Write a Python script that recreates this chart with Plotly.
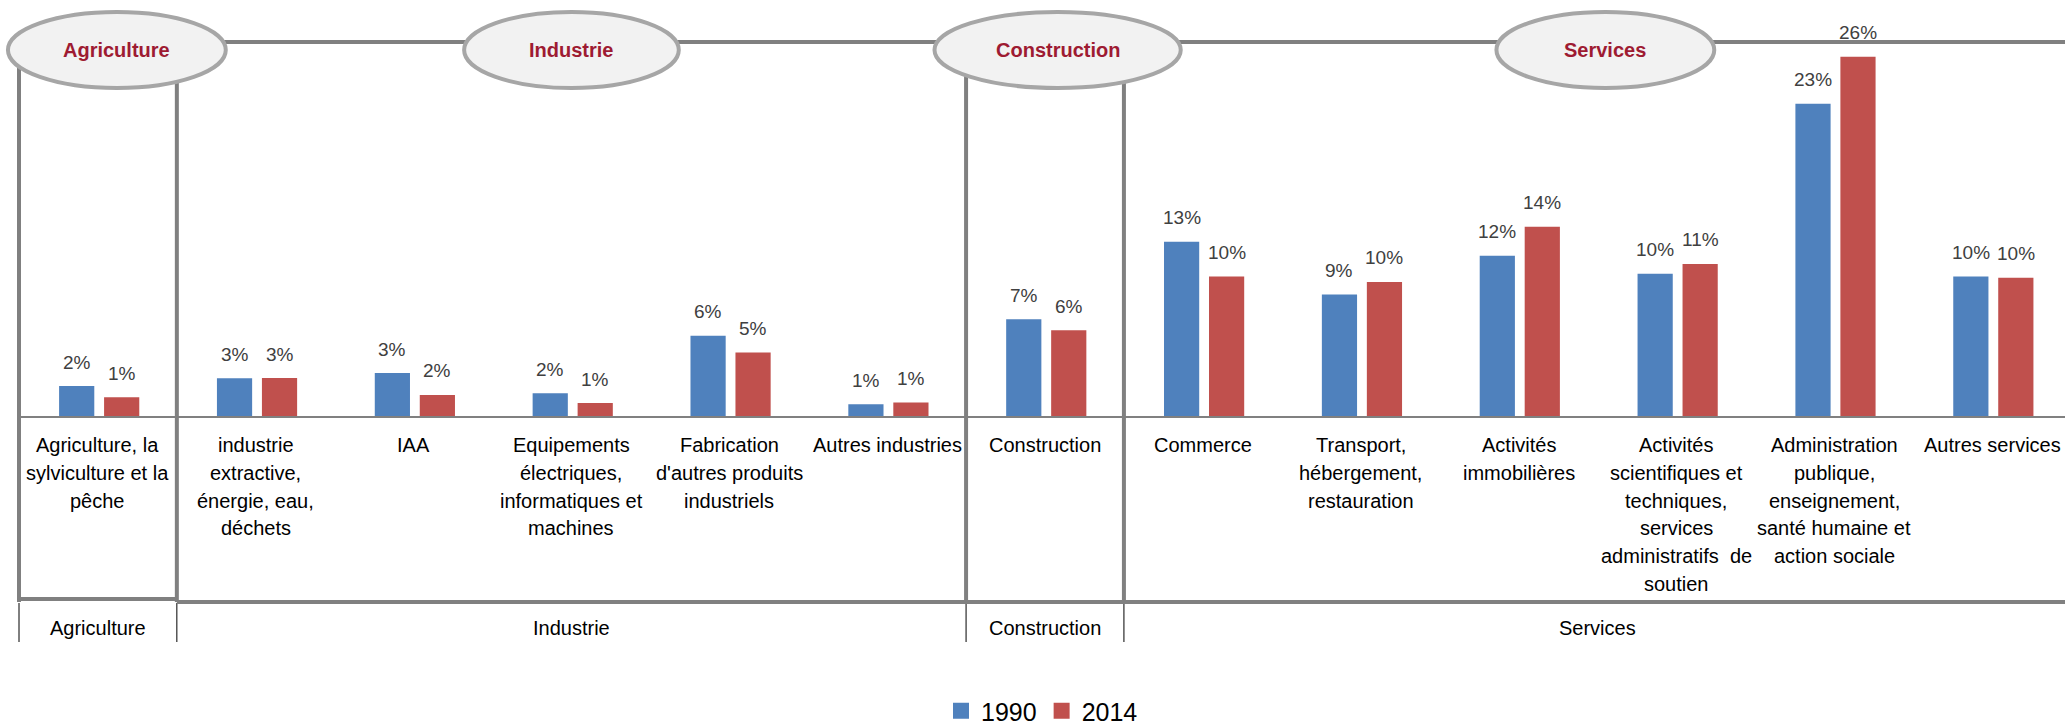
import plotly.graph_objects as go

# Répartition de l'emploi par secteur, 1990 vs 2014 (part en %)
categories = [
    "Agriculture, la\nsylviculture et la\npêche",
    "industrie\nextractive,\nénergie, eau,\ndéchets",
    "IAA",
    "Equipements\nélectriques,\ninformatiques et\nmachines",
    "Fabrication\nd'autres produits\nindustriels",
    "Autres industries",
    "Construction",
    "Commerce",
    "Transport,\nhébergement,\nrestauration",
    "Activités\nimmobilières",
    "Activités\nscientifiques et\ntechniques,\nservices\nadministratifs  de\nsoutien",
    "Administration\npublique,\nenseignement,\nsanté humaine et\naction sociale",
    "Autres services",
]
groups = ["Agriculture", "Industrie", "Construction", "Services"]
group_sizes = [1, 5, 1, 6]

share_1990 = [2.17, 2.73, 3.11, 1.64, 5.8, 0.85, 7.0, 12.6, 8.8, 11.6, 10.3, 22.6, 10.1]
share_2014 = [1.35, 2.75, 1.52, 0.94, 4.6, 0.97, 6.2, 10.1, 9.7, 13.7, 11.0, 26.0, 10.0]

BLUE, RED = "#4F81BD", "#C0504D"
FONT = "Liberation Sans, Arial, sans-serif"
W, H = 2065, 725
ML, MT, MB = 19, 40, 309
X_MIN, X_MAX = -0.5, 12.462
PX_PER_PCT = 13.82
BAR_W = 0.223

plot_h = H - MT - MB


def xp(c):
    # category units -> paper fraction
    return (c - X_MIN) / (X_MAX - X_MIN)


def yp(pix):
    # pixel row of the page -> paper fraction
    return (H - MB - pix) / plot_h


fig = go.Figure()
x = list(range(len(categories)))

for vals, color, off, name in [(share_1990, BLUE, -0.246, "1990"),
                               (share_2014, RED, 0.039, "2014")]:
    fig.add_trace(go.Bar(x=x, y=vals, width=BAR_W, offset=off,
                         marker=dict(color=color, line_width=0),
                         showlegend=False, hoverinfo="y"))
    for i, v in enumerate(vals):
        fig.add_annotation(x=i + off + BAR_W / 2, y=v, text=f"{v:.0f}%",
                           showarrow=False, yanchor="middle", yshift=24,
                           font=dict(size=19, color="#404040"))
    # legend entry with a bigger square
    fig.add_trace(go.Scatter(x=[None], y=[None], mode="markers", name=name,
                             marker=dict(symbol="square", size=16, color=color)))

# category labels, one annotation per line to keep tight line spacing
for i, lab in enumerate(categories):
    for k, line in enumerate(lab.split("\n")):
        fig.add_annotation(x=i, y=0, yref="paper", text=line, showarrow=False,
                           xanchor="center", yanchor="middle", yshift=-29 - k * 27.8,
                           font=dict(size=20, color="black"))

# group row + boxes
GRAY = "#808080"
shapes = []
start = 0
edges = [0]
for g, n in zip(groups, group_sizes):
    mid = start + (n - 1) / 2
    fig.add_annotation(x=mid, y=0, yref="paper", text=g, showarrow=False,
                       xanchor="center", yanchor="middle", yshift=-212,
                       font=dict(size=20, color="black"))
    start += n
    edges.append(start)

# connector line at the top
shapes.append(dict(type="line", xref="paper", yref="paper", x0=xp(0.13), x1=1.01,
                   y0=yp(42), y1=yp(42), line=dict(color=GRAY, width=4)))
# vertical box lines
for e in edges[:-1]:
    xe = xp(e - 0.5)
    shapes.append(dict(type="line", xref="paper", yref="paper", x0=xe, x1=xe,
                       y0=yp(50), y1=yp(602), line=dict(color=GRAY, width=4)))
    shapes.append(dict(type="line", xref="paper", yref="paper", x0=xe, x1=xe,
                       y0=yp(603), y1=yp(642), line=dict(color="black", width=1)))
# bottom lines of the boxes
shapes.append(dict(type="line", xref="paper", yref="paper", x0=xp(-0.5), x1=xp(0.5),
                   y0=yp(599), y1=yp(599), line=dict(color=GRAY, width=4)))
shapes.append(dict(type="line", xref="paper", yref="paper", x0=xp(0.5), x1=1.01,
                   y0=yp(602), y1=yp(602), line=dict(color=GRAY, width=4)))

# ellipses with group names
ellipses = [(0.12, 0.69), (3.0, 0.68), (6.08, 0.78), (9.55, 0.69)]
for g, (c, r) in zip(groups, ellipses):
    shapes.append(dict(type="circle", xref="paper", yref="paper",
                       x0=xp(c - r), x1=xp(c + r), y0=yp(88), y1=yp(12),
                       fillcolor="#F2F2F2", line=dict(color="#A6A6A6", width=4)))
    fig.add_annotation(x=xp(c), y=yp(50), xref="paper", yref="paper", text=f"<b>{g}</b>",
                       xanchor="center", yanchor="middle", showarrow=False,
                       font=dict(size=20, color="#9E1B32"))

fig.update_layout(
    width=W, height=H,
    margin=dict(l=ML, r=0, t=MT, b=MB, autoexpand=False),
    barmode="overlay",
    plot_bgcolor="white", paper_bgcolor="white",
    font=dict(family=FONT),
    shapes=shapes,
    showlegend=True,
    legend=dict(orientation="h", x=0.5, xanchor="center", y=yp(711), yanchor="middle",
                font=dict(size=25, color="black"), itemclick=False),
    xaxis=dict(range=[X_MIN, X_MAX], showticklabels=False, showgrid=False,
               zeroline=False, showline=True, linecolor=GRAY, linewidth=2,
               ticks="", fixedrange=True),
    yaxis=dict(range=[0, plot_h / PX_PER_PCT], visible=False, fixedrange=True),
)

# drop the default body margin so the figure sits at the page corner
fig.write_html("out.html", config={"displayModeBar": False},
               post_script="document.body.style.margin='0';")
